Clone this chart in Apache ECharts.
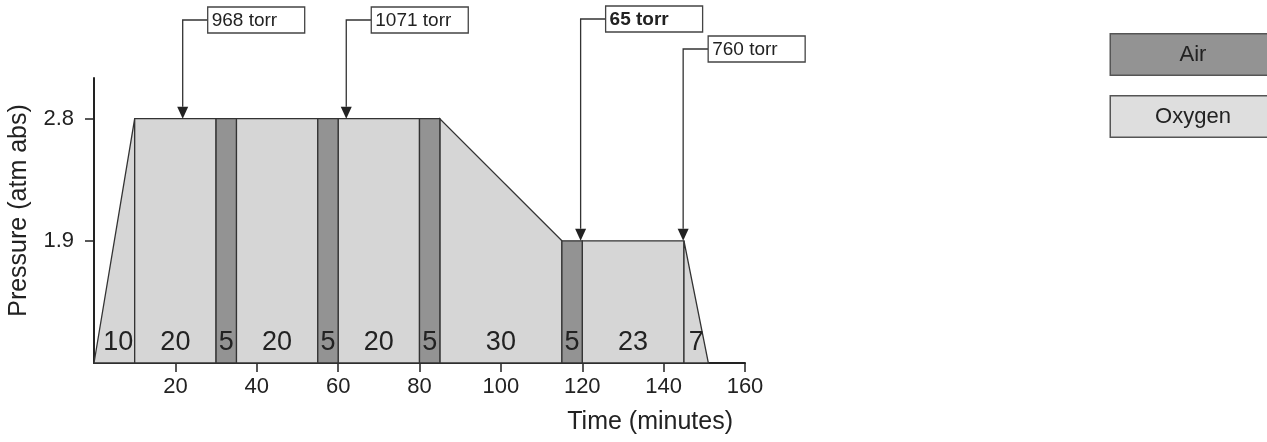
<!DOCTYPE html>
<html>
<head>
<meta charset="utf-8">
<title>Treatment table</title>
<script src="https://cdn.jsdelivr.net/npm/echarts@6/dist/echarts.min.js"></script>
<style>
	html, body { margin: 0; padding: 0; background: #fff; }
	#main { width: 1267px; height: 442px; }
</style>
</head>
<body>
<div id="main"></div>
<script>
// segments of the table, in minutes and atm abs
var segStart = [0, 10, 30, 35, 55, 60, 80, 85, 115, 120, 145];
var segEnd = [10, 30, 35, 55, 60, 80, 85, 115, 120, 145, 151];
var pressStart = [1.0, 2.8, 2.8, 2.8, 2.8, 2.8, 2.8, 2.8, 1.9, 1.9, 1.9];
var pressEnd = [2.8, 2.8, 2.8, 2.8, 2.8, 2.8, 2.8, 1.9, 1.9, 1.9, 1.0];
var segGas = ['Oxygen', 'Oxygen', 'Air', 'Oxygen', 'Air', 'Oxygen', 'Air', 'Oxygen', 'Air', 'Oxygen', 'Oxygen'];
var segMinutes = ['10', '20', '5', '20', '5', '20', '5', '30', '5', '23', '7'];

var pressureTicks = [1.9, 2.8];

// arrows
var calloutTime = [21.8, 62, 119.6, 144.8];
var calloutPressure = [2.8, 2.8, 1.9, 1.9];
var calloutText = ['968 torr', '1071 torr', '65 torr', '760 torr'];

var FONT = "'Liberation Sans', Arial, sans-serif";
var gasColor = { Air: '#939393', Oxygen: '#d6d6d6' };
var yMin = 1.0;

function segData(gas) {
	var out = [];
	for (var i = 0; i < segStart.length; i++) {
		if (segGas[i] == gas) out.push([segStart[i], segEnd[i], pressStart[i], pressEnd[i], i]);
	}
	return out;
}

function renderSeg(params, api) {
	var t0 = api.value(0), t1 = api.value(1);
	var p0 = api.value(2), p1 = api.value(3);
	var i = api.value(4);
	var a = api.coord([t0, yMin]);
	var b = api.coord([t0, p0]);
	var c = api.coord([t1, p1]);
	var d = api.coord([t1, yMin]);
	// first ramp: push the number a bit right, away from the slope
	var mx = (a[0] + d[0]) / 2 + (p0 == yMin ? 4 : 0);
	return {
		type: 'group',
		children: [{
			type: 'polygon',
			shape: { points: [a, b, c, d] },
			style: { fill: api.visual('color'), stroke: '#333', lineWidth: 1.3 }
		}, {
			type: 'text',
			x: mx,
			y: a[1] - 20,
			style: {
				text: segMinutes[i],
				font: '27px ' + FONT,
				fill: '#222',
				align: 'center',
				verticalAlign: 'middle'
			}
		}]
	};
}

// box layout for the arrows (px)
var boxTop = [7, 7, 6, 36];
var boxW = 97, boxH = 26, boxDx = 25;

function renderCallout(params, api) {
	var i = api.value(2);
	var tip = api.coord([api.value(0), api.value(1)]);
	var left = tip[0] + boxDx;
	var top = boxTop[i];
	var ly = top + boxH / 2;
	var head = 12;
	return {
		type: 'group',
		children: [{
			type: 'polyline',
			shape: { points: [[left, ly], [tip[0], ly], [tip[0], tip[1] - head]] },
			style: { stroke: '#333', lineWidth: 1.3, fill: null }
		}, {
			type: 'polygon',
			shape: { points: [[tip[0] - 5.5, tip[1] - head], [tip[0] + 5.5, tip[1] - head], [tip[0], tip[1]]] },
			style: { fill: '#222' }
		}, {
			type: 'rect',
			shape: { x: left, y: top, width: boxW, height: boxH },
			style: { fill: '#fff', stroke: '#444', lineWidth: 1.3 }
		}, {
			type: 'text',
			x: left + 4,
			y: ly + 1,
			style: {
				text: calloutText[i],
				font: (calloutText[i] == '65 torr' ? 'bold ' : '') + '19px ' + FONT,
				fill: '#222',
				verticalAlign: 'middle'
			}
		}]
	};
}

var calloutData = [];
for (var k = 0; k < calloutTime.length; k++) calloutData.push([calloutTime[k], calloutPressure[k], k]);

function legendBox(bg) {
	return {
		width: 164,
		height: 40,
		lineHeight: 40,
		align: 'center',
		fontSize: 22,
		color: '#222',
		fontFamily: FONT,
		backgroundColor: bg,
		borderColor: '#555',
		borderWidth: 1.5
	};
}

var myChart = echarts.init(document.getElementById('main'));
var option = {
	backgroundColor: '#fff',
	animation: false,
	textStyle: { fontFamily: FONT },
	grid: { left: 94, right: 522, top: 78, bottom: 79, containLabel: false, outerBoundsMode: 'none' },
	legend: {
		orient: 'vertical',
		left: 1101,
		top: 28,
		icon: 'none',
		itemWidth: 0,
		itemHeight: 0,
		itemGap: 19,
		selectedMode: false,
		data: ['Air', 'Oxygen'],
		formatter: function(name) {
			return '{' + (name == 'Air' ? 'air' : 'oxy') + '|' + name + '}';
		},
		textStyle: {
			rich: {
				air: legendBox(gasColor.Air),
				oxy: legendBox('#dedede')
			}
		}
	},
	xAxis: {
		type: 'value',
		min: 0,
		max: 160,
		interval: 20,
		name: 'Time (minutes)',
		nameLocation: 'end',
		nameGap: -12,
		nameTextStyle: { fontSize: 25, color: '#222', align: 'right', verticalAlign: 'top', padding: [47, 0, 0, 0] },
		axisLine: { show: true, lineStyle: { color: '#222', width: 2 } },
		axisTick: { show: true, length: 9, lineStyle: { color: '#222', width: 1.5 } },
		axisLabel: { fontSize: 22, color: '#222', margin: 13, showMinLabel: false },
		splitLine: { show: false }
	},
	yAxis: {
		type: 'value',
		min: yMin,
		max: 3.1,
		name: 'Pressure (atm abs)',
		nameLocation: 'middle',
		nameGap: 62,
		nameTextStyle: { fontSize: 25, color: '#222', padding: [0, 0, 0, 20] },
		axisLine: { show: true, lineStyle: { color: '#222', width: 2 } },
		axisTick: { show: true, length: 9, customValues: pressureTicks, lineStyle: { color: '#222', width: 1.5 } },
		axisLabel: { fontSize: 22, color: '#222', margin: 20, customValues: pressureTicks, formatter: function(v) { return v.toFixed(1); } },
		splitLine: { show: false }
	},
	series: [{
		name: 'Oxygen',
		type: 'custom',
		color: gasColor.Oxygen,
		renderItem: renderSeg,
		encode: { x: [0, 1], y: [2, 3] },
		data: segData('Oxygen'),
		z: 2
	}, {
		name: 'Air',
		type: 'custom',
		color: gasColor.Air,
		renderItem: renderSeg,
		encode: { x: [0, 1], y: [2, 3] },
		data: segData('Air'),
		z: 3
	}, {
		name: 'pO2',
		type: 'custom',
		renderItem: renderCallout,
		encode: { x: 0, y: 1 },
		data: calloutData,
		z: 5
	}]
};
myChart.setOption(option);
</script>
</body>
</html>
